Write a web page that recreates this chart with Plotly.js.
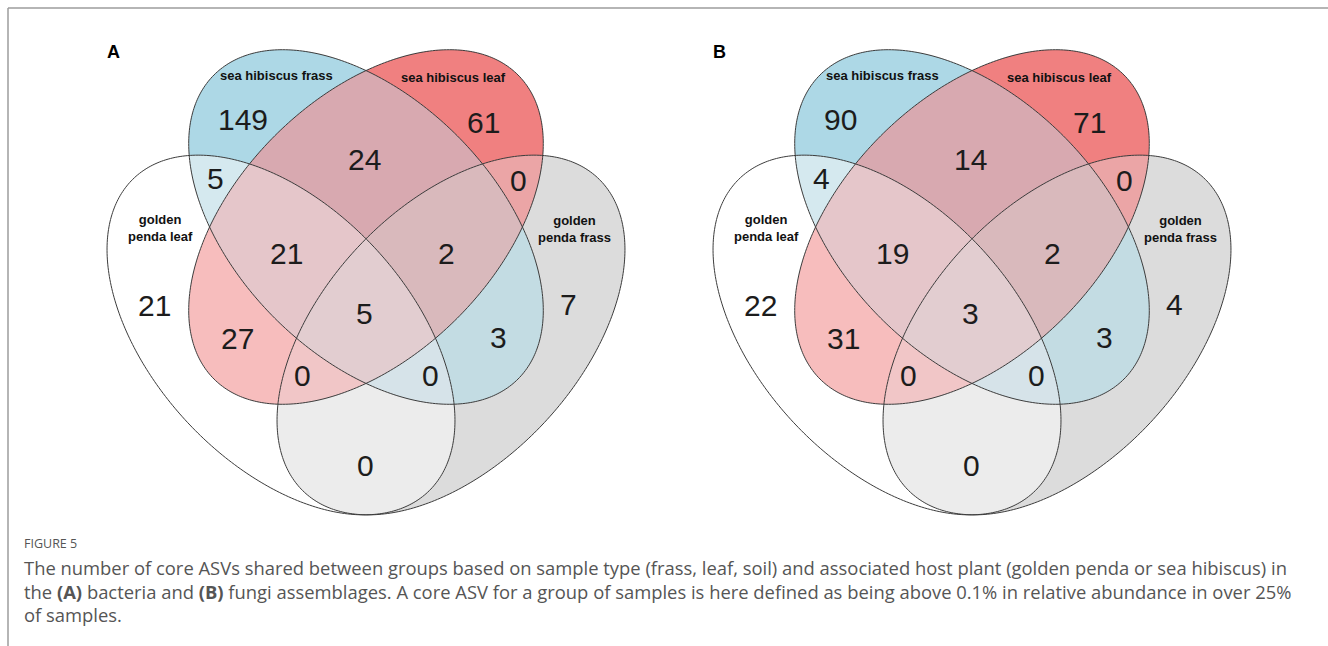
<!DOCTYPE html>
<html><head><meta charset="utf-8">
<script src="https://cdn.plot.ly/plotly-3.0.1.min.js"></script>
<style>html,body{margin:0;padding:0;background:#fff;overflow:hidden}</style>
</head><body><div id="chart" style="width:1328px;height:646px"></div>
<script>
// ---------------- DATA ----------------
const setNames = ["sea hibiscus frass", "sea hibiscus leaf", "golden penda leaf", "golden penda frass"];
const panelLetters = ["A", "B"];
// region membership keys: [sea hibiscus frass, sea hibiscus leaf, golden penda leaf, golden penda frass]
const regionKeys = ["1000","0100","1100","1010","0101","1110","1101","0010","0001","1111","0110","1001","0111","1011","0011"];
const bacteriaCounts = [149, 61, 24, 5, 0, 21, 2, 21, 7, 5, 27, 3, 0, 0, 0];
const fungiCounts    = [90, 71, 14, 4, 0, 19, 2, 22, 4, 3, 31, 3, 0, 0, 0];
const figureLabel = "FIGURE 5";
const captionLines = [
  "The number of core ASVs shared between groups based on sample type (frass, leaf, soil) and associated host plant (golden penda or sea hibiscus) in",
  "the <b>(A)</b> bacteria and <b>(B)</b> fungi assemblages. A core ASV for a group of samples is here defined as being above 0.1% in relative abundance in over 25%",
  "of samples."
];

// ---------------- LAYOUT / STYLE ----------------
const W = 1328, H = 646;
const panelOffsets = [0, 606];
// ellipse geometry per set (panel-local pixel units)
const ellipses = [
  {cx: 366, cy: 227, a: 215, b: 129, ang: 45},
  {cx: 366, cy: 227, a: 215, b: 129, ang: 135},
  {cx: 281, cy: 335, a: 215, b: 128, ang: 47},
  {cx: 451, cy: 335, a: 215, b: 128, ang: 133}
];
// fill colour per membership key
const regionColors = {
  "0000": [255,255,255],
  "1000": [173,216,230], "0100": [240,128,128], "0010": [255,255,255], "0001": [220,220,220],
  "1100": [216,169,176], "1010": [213,233,239], "1001": [195,220,227], "0110": [247,189,189],
  "0101": [235,165,166], "0011": [236,236,236], "1110": [229,198,202], "1101": [217,185,188],
  "1011": [214,227,233], "0111": [241,198,199], "1111": [226,205,208]
};
const labelPos = [
  [216,119,"left"],[483,122,"center"],[364,159,"center"],[215,178,"center"],[518,180,"center"],
  [286,253,"center"],[446,253,"center"],[154,305,"center"],[568,304,"center"],[364,313,"center"],
  [237,338,"center"],[498,337,"center"],[302,375,"center"],[430,375,"center"],[365,465,"center"]
];
const setLabelPos = [[276,75],[453,77],[160,228],[574,229]];
const setLabelText = ["sea hibiscus frass","sea hibiscus leaf","golden<br>penda leaf","golden<br>penda frass"];

function inside(e, x, y) {
  const t = e.ang * Math.PI / 180, c = Math.cos(t), s = Math.sin(t);
  const dx = x - e.cx, dy = y - e.cy;
  const u = dx * c + dy * s, v = -dx * s + dy * c;
  return (u*u)/(e.a*e.a) + (v*v)/(e.b*e.b) <= 1;
}
function ellipsePath(e, ox) {
  const t = e.ang * Math.PI / 180, c = Math.cos(t), s = Math.sin(t);
  let p = "";
  const N = 360;
  for (let i = 0; i <= N; i++) {
    const q = 2 * Math.PI * i / N;
    const u = e.a * Math.cos(q), v = e.b * Math.sin(q);
    const x = e.cx + u * c - v * s + ox, y = e.cy + u * s + v * c;
    p += (i === 0 ? "M" : "L") + x.toFixed(2) + "," + y.toFixed(2);
  }
  return p + "Z";
}

const X0 = 95, Y0 = 38, IW = 550, IH = 484;
const traces = [];
const shapes = [];
const annotations = [];
const counts = [bacteriaCounts, fungiCounts];

panelOffsets.forEach((ox, p) => {
  const z = [];
  for (let i = 0; i < IH; i++) {
    const row = [];
    const y = Y0 + i + 0.5;
    for (let j = 0; j < IW; j++) {
      const x = X0 + j + 0.5;
      let key = "";
      for (let k = 0; k < 4; k++) key += inside(ellipses[k], x, y) ? "1" : "0";
      row.push(regionColors[key]);
    }
    z.push(row);
  }
  traces.push({type: "image", z: z, x0: ox + X0 + 0.5, y0: Y0 + 0.5, dx: 1, dy: 1, hoverinfo: "skip"});
  ellipses.forEach(e => {
    shapes.push({type: "path", xref: "x", yref: "y", path: ellipsePath(e, ox),
      line: {color: "#3c3c3c", width: 1}, fillcolor: "rgba(0,0,0,0)"});
  });
  regionKeys.forEach((key, r) => {
    annotations.push({x: labelPos[r][0] + ox, y: labelPos[r][1], xref: "x", yref: "y",
      text: String(counts[p][r]), showarrow: false, xanchor: labelPos[r][2], yanchor: "middle",
      font: {family: "Liberation Sans, Arial, sans-serif", size: 30, color: "#1c1c1c"}});
  });
  setNames.forEach((nm, k) => {
    annotations.push({x: setLabelPos[k][0] + ox, y: setLabelPos[k][1], xref: "x", yref: "y",
      text: "<b>" + setLabelText[k] + "</b>", showarrow: false, xanchor: "center", yanchor: "middle",
      font: {family: "Liberation Sans, Arial, sans-serif", size: 13, color: "#111"}});
  });
  annotations.push({x: 113 + ox, y: 52, xref: "x", yref: "y", text: "<b>" + panelLetters[p] + "</b>",
    showarrow: false, xanchor: "center", yanchor: "middle",
    font: {family: "Liberation Sans, Arial, sans-serif", size: 18, color: "#000"}});
});

// frame lines
shapes.push({type: "line", xref: "x", yref: "y", x0: 8, x1: W, y0: 8, y1: 8, line: {color: "#9c9c9c", width: 1.5}});
shapes.push({type: "line", xref: "x", yref: "y", x0: 8, x1: 8, y0: 8, y1: H, line: {color: "#9c9c9c", width: 1.5}});

annotations.push({x: 22, y: 543, xref: "x", yref: "y", text: figureLabel, showarrow: false,
  xanchor: "left", yanchor: "middle", font: {family: "Open Sans, sans-serif", size: 12.5, color: "#555"}});
const capY = [567, 591, 614];
captionLines.forEach((t, i) => {
  annotations.push({x: 22, y: capY[i], xref: "x", yref: "y", text: t, showarrow: false,
    xanchor: "left", yanchor: "middle", font: {family: "Open Sans, sans-serif", size: 18.4, color: "#555"}});
});

const layout = {
  width: W, height: H, margin: {l: 0, r: 0, t: 0, b: 0},
  paper_bgcolor: "#fff", plot_bgcolor: "#fff", showlegend: false,
  xaxis: {range: [0, W], visible: false, fixedrange: true},
  yaxis: {range: [H, 0], visible: false, fixedrange: true, scaleanchor: false},
  shapes: shapes, annotations: annotations
};
Plotly.newPlot("chart", traces, layout, {displayModeBar: false, staticPlot: true});
</script>
</body></html>
